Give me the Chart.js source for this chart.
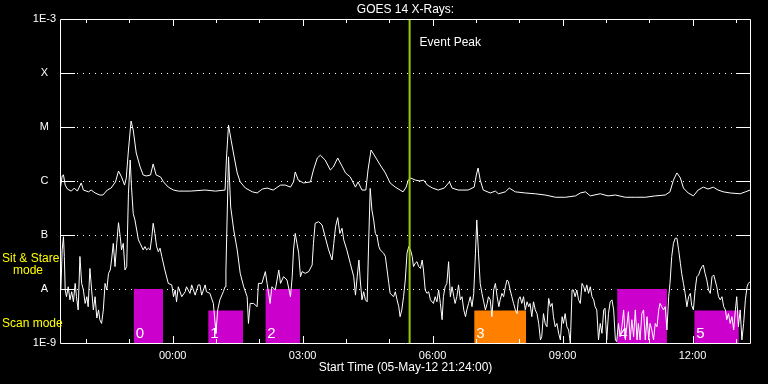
<!DOCTYPE html>
<html>
<head>
<meta charset="utf-8">
<script src="https://cdn.jsdelivr.net/npm/chart.js@4.4.1/dist/chart.umd.min.js"></script>
<style>
  html, body { margin: 0; padding: 0; background: #000; }
  #wrap { width: 768px; height: 384px; }
</style>
</head>
<body>
<div id="wrap"><canvas id="goesChart" width="768" height="384"></canvas></div>
<script>
// time axis: hours relative to 00:00 on 06-May-12 (plot starts 05-May-12 21:24)
const startHour = -2.6;
const endHour = 13.35;
const eventPeakHour = 5.47;

const levelValues = [1e-9, 1e-8, 1e-7, 1e-6, 1e-5, 1e-4, 1e-3];
const levelLabels = ["1E-9", "A", "B", "C", "M", "X", "1E-3"];

const hourTicks = [0, 3, 6, 9, 12];
const hourLabels = ["00:00", "03:00", "06:00", "09:00", "12:00"];

// observing blocks (0..5)
const blockNames = ["0", "1", "2", "3", "4", "5"];
const blockStart = [-0.9, 0.82, 2.14, 6.96, 10.26, 12.04];
const blockEnd = [-0.22, 1.63, 2.94, 8.16, 11.41, 13.07];
const blockTop = [1e-8, 4e-9, 1e-8, 4e-9, 1e-8, 4e-9];
const blockColors = ["#cc00cc", "#cc00cc", "#cc00cc", "#ff8000", "#cc00cc", "#cc00cc"];

// GOES long channel (upper curve)
const longHours = [
  -2.59, -2.55, -2.52, -2.48, -2.43, -2.34, -2.27, -2.20, -2.11, -2.06,
  -1.94, -1.88, -1.79, -1.68, -1.61, -1.51, -1.42, -1.32, -1.25, -1.18,
  -1.11, -1.07, -1.02, -0.96, -0.91, -0.84, -0.75, -0.68, -0.61, -0.51,
  -0.45, -0.38, -0.28, -0.21, -0.10, 0.02, 0.13, 0.41, 0.75, 0.99,
  1.21, 1.24, 1.29, 1.35, 1.42, 1.49, 1.56, 1.68, 1.84, 1.95,
  2.07, 2.18, 2.32, 2.49, 2.60, 2.72, 2.79, 2.83, 2.90, 3.02,
  3.18, 3.25, 3.34, 3.41, 3.52, 3.64, 3.71, 3.81, 3.92, 3.99,
  4.10, 4.22, 4.28, 4.37, 4.46, 4.51, 4.58, 4.68, 4.79, 4.91,
  5.02, 5.14, 5.25, 5.32, 5.39, 5.44, 5.49, 5.60, 5.71, 5.79,
  5.88, 6.00, 6.13, 6.27, 6.39, 6.45, 6.59, 6.82, 6.96, 7.01,
  7.05, 7.10, 7.17, 7.33, 7.45, 7.52, 7.68, 7.77, 7.91, 8.14,
  8.37, 8.60, 8.84, 9.07, 9.30, 9.41, 9.53, 9.64, 9.87, 10.05,
  10.22, 10.45, 10.68, 10.91, 11.14, 11.37, 11.48, 11.56, 11.64, 11.72,
  11.79, 11.90, 12.02, 12.13, 12.25, 12.36, 12.48, 12.59, 12.71, 12.87,
  13.10, 13.22, 13.33
];
const longFlux = [
  7.4e-7, 1.24e-6, 1.3e-6, 8.4e-7, 7.1e-7, 6.5e-7, 7.4e-7, 6.5e-7, 9.2e-7, 6.8e-7,
  6.3e-7, 6.8e-7, 6.0e-7, 5.5e-7, 5.5e-7, 6.8e-7, 7.4e-7, 9.6e-7, 1.53e-6, 1.19e-6,
  8.4e-7, 1.14e-6, 3.75e-6, 1.29e-5, 8.8e-6, 3.3e-6, 1.82e-6, 1.29e-6, 1.24e-6, 1.29e-6,
  2.07e-6, 1.29e-6, 1.19e-6, 9.6e-7, 7.7e-7, 6.8e-7, 6.5e-7, 6.5e-7, 6.8e-7, 6.5e-7,
  6.8e-7, 2.45e-6, 1.09e-5, 5.7e-6, 2.78e-6, 1.41e-6, 9.6e-7, 7.4e-7, 6.3e-7, 6.0e-7,
  7.1e-7, 7.4e-7, 6.8e-7, 8.4e-7, 8.4e-7, 7.7e-7, 9.6e-7, 1.47e-6, 1.04e-6, 9.2e-7,
  9.6e-7, 1.6e-6, 2.67e-6, 3.0e-6, 2.45e-6, 1.6e-6, 1.82e-6, 2.67e-6, 1.82e-6, 1.41e-6,
  1.19e-6, 7.7e-7, 9.6e-7, 6.8e-7, 6.8e-7, 1.6e-6, 3.75e-6, 2.78e-6, 1.98e-6, 1.41e-6,
  9.2e-7, 7.7e-7, 6.8e-7, 6.3e-7, 7.7e-7, 1.04e-6, 1.14e-6, 1.04e-6, 1.0e-6, 1.04e-6,
  8.4e-7, 7.4e-7, 6.8e-7, 7.4e-7, 9.6e-7, 7.4e-7, 6.8e-7, 6.8e-7, 7.7e-7, 1.29e-6,
  1.74e-6, 1.04e-6, 6.8e-7, 6.0e-7, 6.5e-7, 5.8e-7, 6.3e-7, 7.4e-7, 6.3e-7, 6.0e-7,
  5.8e-7, 5.5e-7, 5.0e-7, 5.0e-7, 5.3e-7, 6.0e-7, 6.3e-7, 5.3e-7, 5.8e-7, 5.3e-7,
  5.5e-7, 5.0e-7, 5.0e-7, 5.0e-7, 5.3e-7, 5.5e-7, 6.3e-7, 1.04e-6, 1.41e-6, 1.14e-6,
  7.4e-7, 6.0e-7, 5.3e-7, 6.8e-7, 7.7e-7, 7.1e-7, 7.7e-7, 6.8e-7, 6.3e-7, 6.0e-7,
  5.8e-7, 6.3e-7, 6.8e-7
];

// GOES short channel (lower curve)
const shortHours = [
  -2.58, -2.55, -2.52, -2.50, -2.48, -2.45, -2.41, -2.37, -2.33, -2.29,
  -2.25, -2.22, -2.18, -2.14, -2.10, -2.06, -2.02, -1.98, -1.95, -1.91,
  -1.87, -1.83, -1.79, -1.75, -1.71, -1.68, -1.64, -1.60, -1.56, -1.52,
  -1.48, -1.44, -1.41, -1.37, -1.33, -1.29, -1.25, -1.21, -1.18, -1.14,
  -1.10, -1.06, -1.02, -0.98, -0.95, -0.91, -0.87, -0.79, -0.75, -0.68,
  -0.64, -0.60, -0.56, -0.52, -0.48, -0.45, -0.41, -0.37, -0.33, -0.29,
  -0.25, -0.18, -0.10, -0.02, 0.02, 0.06, 0.09, 0.13, 0.21, 0.29,
  0.32, 0.40, 0.44, 0.52, 0.59, 0.63, 0.67, 0.75, 0.78, 0.86,
  0.94, 0.98, 1.00, 1.04, 1.09, 1.17, 1.21, 1.23, 1.29, 1.34,
  1.41, 1.49, 1.56, 1.64, 1.72, 1.75, 1.79, 1.87, 1.95, 1.98,
  2.06, 2.14, 2.18, 2.25, 2.29, 2.37, 2.45, 2.49, 2.56, 2.64,
  2.72, 2.76, 2.79, 2.83, 2.87, 2.91, 2.95, 2.99, 3.06, 3.14,
  3.22, 3.25, 3.29, 3.37, 3.45, 3.52, 3.60, 3.68, 3.72, 3.76,
  3.81, 3.86, 3.91, 3.95, 4.02, 4.10, 4.18, 4.22, 4.26, 4.30,
  4.33, 4.37, 4.41, 4.45, 4.49, 4.52, 4.56, 4.60, 4.64, 4.68,
  4.72, 4.76, 4.79, 4.87, 4.91, 4.95, 4.99, 5.02, 5.10, 5.14,
  5.18, 5.22, 5.25, 5.29, 5.33, 5.37, 5.41, 5.45, 5.49, 5.53,
  5.56, 5.60, 5.64, 5.68, 5.72, 5.76, 5.79, 5.83, 5.87, 5.91,
  5.95, 6.02, 6.06, 6.10, 6.14, 6.18, 6.22, 6.25, 6.29, 6.33,
  6.37, 6.41, 6.45, 6.49, 6.52, 6.56, 6.60, 6.64, 6.68, 6.72,
  6.76, 6.79, 6.83, 6.87, 6.91, 6.95, 6.99, 7.02, 7.06, 7.10,
  7.14, 7.18, 7.22, 7.26, 7.29, 7.33, 7.37, 7.41, 7.45, 7.49,
  7.53, 7.56, 7.60, 7.64, 7.68, 7.72, 7.75, 7.79, 7.83, 7.87,
  7.91, 7.95, 7.98, 8.02, 8.06, 8.10, 8.14, 8.18, 8.22, 8.25,
  8.29, 8.33, 8.37, 8.41, 8.45, 8.49, 8.52, 8.56, 8.60, 8.64,
  8.68, 8.72, 8.76, 8.79, 8.83, 8.87, 8.91, 8.95, 8.99, 9.02,
  9.06, 9.10, 9.14, 9.18, 9.22, 9.25, 9.29, 9.33, 9.37, 9.41,
  9.45, 9.49, 9.52, 9.56, 9.60, 9.64, 9.68, 9.72, 9.75, 9.79,
  9.83, 9.87, 9.91, 9.95, 9.98, 10.02, 10.06, 10.10, 10.14, 10.18,
  10.22, 10.25, 10.29, 10.33, 10.37, 10.41, 10.45, 10.49, 10.52, 10.56,
  10.60, 10.64, 10.68, 10.72, 10.75, 10.79, 10.83, 10.87, 10.91, 10.95,
  10.99, 11.02, 11.06, 11.10, 11.14, 11.18, 11.22, 11.25, 11.29, 11.33,
  11.37, 11.41, 11.45, 11.48, 11.52, 11.56, 11.60, 11.64, 11.68, 11.72,
  11.75, 11.79, 11.83, 11.87, 11.91, 11.95, 11.98, 12.02, 12.06, 12.10,
  12.14, 12.18, 12.22, 12.25, 12.29, 12.33, 12.37, 12.41, 12.45, 12.49,
  12.52, 12.56, 12.60, 12.64, 12.68, 12.72, 12.76, 12.79, 12.83, 12.87,
  12.91, 12.95, 12.99, 13.02, 13.06, 13.10, 13.14, 13.18, 13.22, 13.26,
  13.29, 13.33
];
const shortFlux = [
  9.6e-9, 5.3e-8, 9.3e-8, 4.0e-8, 9.6e-9, 7.2e-9, 1.1e-8, 6.3e-9, 8.9e-9, 5.8e-9,
  1.27e-8, 7.2e-9, 4.1e-9, 4.0e-8, 1.27e-8, 9.6e-9, 5.4e-9, 7.2e-9, 4.7e-9, 2.4e-8,
  9.6e-9, 4.1e-9, 7.2e-9, 2.9e-9, 4.1e-9, 2.7e-9, 2.3e-9, 4.1e-9, 1.27e-8, 9.6e-9,
  1.95e-8, 2.25e-8, 3.44e-8, 7.0e-8, 2.6e-8, 7.0e-8, 1.69e-7, 9.3e-8, 5.3e-8, 7.0e-8,
  2.25e-8, 2.6e-8, 5.9e-7, 2.45e-6, 7.9e-7, 2.5e-7, 1.9e-7, 8.1e-8, 7.0e-8, 5.3e-8,
  6.1e-8, 5.3e-8, 5.7e-8, 5.3e-8, 9.3e-8, 1.65e-7, 1.07e-7, 6.1e-8, 4.9e-8, 5.7e-8,
  4.0e-8, 2.25e-8, 1.27e-8, 1.19e-8, 7.2e-9, 9.6e-9, 5.8e-9, 1.1e-8, 7.2e-9, 8.9e-9,
  1.1e-8, 8.3e-9, 1.19e-8, 7.7e-9, 1.19e-8, 1.19e-8, 7.7e-9, 1.19e-8, 8.9e-9, 8.3e-9,
  5.4e-9, 2.3e-9, 1.51e-9, 4.1e-9, 6.3e-9, 8.9e-9, 1.1e-8, 2.25e-8, 2.8e-6, 3.3e-7,
  1.24e-7, 5.3e-8, 1.95e-8, 1.1e-8, 7.2e-9, 2.3e-9, 5.4e-9, 5.4e-9, 4.7e-9, 1.27e-8,
  1.27e-8, 2.1e-8, 1.27e-8, 5.4e-9, 1.1e-8, 9.6e-9, 2.25e-8, 1.27e-8, 1.69e-8, 1.47e-8,
  7.2e-9, 1.69e-8, 5.3e-8, 1.07e-7, 7.0e-8, 4.6e-8, 1.69e-8, 2.1e-8, 1.95e-8, 2.1e-8,
  2.78e-8, 7.0e-8, 1.65e-7, 1.76e-7, 1.53e-7, 9.3e-8, 5.3e-8, 3.44e-8, 7.0e-8, 1.42e-7,
  2.1e-7, 1.07e-7, 1.33e-7, 8.1e-8, 5.3e-8, 3.0e-8, 1.69e-8, 7.7e-9, 1.69e-8, 3.44e-8,
  1.47e-8, 6.3e-9, 8.9e-9, 6.3e-9, 5.8e-9, 5.3e-8, 7.3e-7, 2.9e-7, 1.9e-7, 1.07e-7,
  9.3e-8, 6.1e-8, 5.3e-8, 4.6e-8, 4.0e-8, 2.25e-8, 1.27e-8, 8.3e-9, 7.2e-9, 8.9e-9,
  6.3e-9, 4.7e-9, 3.07e-9, 4.1e-9, 7.2e-9, 1.47e-8, 4.6e-8, 6.1e-8, 5.3e-8, 4.0e-8,
  2.6e-8, 3.0e-8, 3.2e-8, 2.6e-8, 2.4e-8, 3.44e-8, 2.25e-8, 9.6e-9, 8.3e-9, 8.9e-9,
  6.3e-9, 5.4e-9, 7.2e-9, 5.8e-9, 9.6e-9, 5.4e-9, 2.7e-9, 7.2e-9, 1.1e-8, 1.27e-8,
  3.2e-8, 7.2e-9, 1.1e-8, 7.2e-9, 5.4e-9, 7.2e-9, 1.19e-8, 6.3e-9, 7.2e-9, 4.1e-9,
  3.07e-9, 4.1e-9, 5.4e-9, 7.2e-9, 4.7e-9, 8.3e-9, 4.6e-8, 1.9e-7, 4.6e-8, 1.27e-8,
  8.3e-9, 5.8e-9, 4.1e-9, 5.4e-9, 7.2e-9, 6.3e-9, 3.07e-9, 9.6e-9, 1.27e-8, 7.2e-9,
  4.7e-9, 6.3e-9, 8.3e-9, 7.2e-9, 1.1e-8, 1.47e-8, 1.37e-8, 9.6e-9, 7.2e-9, 5.4e-9,
  4.1e-9, 3.5e-9, 6.3e-9, 7.2e-9, 5.4e-9, 7.2e-9, 4.1e-9, 5.8e-9, 4.7e-9, 5.4e-9,
  3.07e-9, 5.8e-9, 4.1e-9, 3.5e-9, 2.3e-9, 1.14e-9, 1.31e-9, 3.5e-9, 2.3e-9, 2.0e-9,
  6.7e-9, 4.7e-9, 5.4e-9, 3.07e-9, 2.0e-9, 2.3e-9, 1.51e-9, 1.14e-9, 3.07e-9, 2.3e-9,
  3.5e-9, 2.0e-9, 1.74e-9, 1.0e-9, 9.6e-9, 9.6e-9, 7.2e-9, 9.6e-9, 6.3e-9, 5.4e-9,
  1.27e-8, 1.1e-8, 8.9e-9, 1.19e-8, 8.3e-9, 1.1e-8, 7.2e-9, 6.3e-9, 4.7e-9, 4.1e-9,
  1.14e-9, 2.3e-9, 1.51e-9, 4.1e-9, 4.4e-9, 1.14e-9, 3.5e-9, 5.8e-9, 6.3e-9, 4.1e-9,
  1.14e-9, 1.06e-9, 2.3e-9, 1.31e-9, 2.0e-9, 4.1e-9, 1.14e-9, 2.3e-9, 3.8e-9, 1.14e-9,
  2.7e-9, 1.31e-9, 4.1e-9, 1.14e-9, 2.3e-9, 1.14e-9, 3.5e-9, 4.1e-9, 1.14e-9, 3.07e-9,
  1.14e-9, 2.3e-9, 1.74e-9, 1.14e-9, 2.3e-9, 2.0e-9, 4.1e-9, 5.4e-9, 4.7e-9, 4.1e-9,
  4.7e-9, 1.74e-9, 7.2e-9, 1.27e-8, 4.0e-8, 7.0e-8, 8.7e-8, 8.7e-8, 5.3e-8, 3.0e-8,
  1.95e-8, 1.27e-8, 8.3e-9, 4.7e-9, 7.2e-9, 8.3e-9, 5.0e-9, 4.1e-9, 9.6e-9, 1.69e-8,
  1.82e-8, 2.25e-8, 2.6e-8, 2.78e-8, 1.95e-8, 1.47e-8, 9.6e-9, 8.3e-9, 1.69e-8, 1.82e-8,
  1.47e-8, 1.1e-8, 7.2e-9, 6.3e-9, 7.2e-9, 4.7e-9, 4.1e-9, 2.7e-9, 3.5e-9, 2.3e-9,
  3.07e-9, 1.74e-9, 4.1e-9, 7.2e-9, 2.0e-9, 4.1e-9, 1.14e-9, 2.3e-9, 6.3e-9, 1.1e-8,
  1.27e-8, 1.37e-8
];

const FONT = "'Liberation Sans', Arial, sans-serif";
Chart.defaults.font.family = FONT;

const toPoints = (hours, flux) => hours.map((h, i) => ({ x: h, y: flux[i] }));

const datasets = [
  {
    label: "Event Peak",
    data: [{ x: eventPeakHour, y: 1e-9 }, { x: eventPeakHour, y: 1e-3 }],
    borderColor: "#99cc00",
    borderWidth: 2,
    pointRadius: 0,
    order: 0
  },
  {
    label: "GOES long",
    data: toPoints(longHours, longFlux),
    borderColor: "#ffffff",
    borderWidth: 1,
    pointRadius: 0,
    order: 1
  },
  {
    label: "GOES short",
    data: toPoints(shortHours, shortFlux),
    borderColor: "#ffffff",
    borderWidth: 1,
    pointRadius: 0,
    order: 1
  }
];

blockNames.forEach((name, i) => {
  datasets.push({
    label: "Block " + name,
    data: [{ x: blockStart[i], y: blockTop[i] }, { x: blockEnd[i], y: blockTop[i] }],
    borderWidth: 0,
    borderColor: "rgba(0,0,0,0)",
    backgroundColor: blockColors[i],
    fill: "start",
    pointRadius: 0,
    order: 2
  });
});

// dotted level lines, inward ticks, frame and annotations
const framePlugin = {
  id: "frame",
  beforeDatasetsDraw(chart) {
    const { ctx, chartArea: a, scales: { y } } = chart;
    ctx.save();
    ctx.strokeStyle = "#ffffff";
    ctx.lineWidth = 1;
    ctx.setLineDash([1, 5]);
    levelValues.slice(1, -1).forEach(v => {
      const py = Math.round(y.getPixelForValue(v)) + 0.5;
      ctx.beginPath();
      ctx.moveTo(a.left + 17, py);
      ctx.lineTo(a.right - 15, py);
      ctx.stroke();
    });
    ctx.restore();
  },
  afterDatasetsDraw(chart) {
    const { ctx, chartArea: a, scales: { x, y } } = chart;
    ctx.save();
    ctx.strokeStyle = "#ffffff";
    ctx.lineWidth = 1;
    ctx.setLineDash([]);

    // frame
    ctx.beginPath();
    ctx.rect(a.left + 0.5, a.top + 0.5, a.right - a.left - 1, a.bottom - a.top);
    ctx.stroke();

    // level ticks on both sides
    levelValues.slice(1, -1).forEach(v => {
      const py = Math.round(y.getPixelForValue(v)) + 0.5;
      ctx.beginPath();
      ctx.moveTo(a.left, py); ctx.lineTo(a.left + 15, py);
      ctx.moveTo(a.right - 15, py); ctx.lineTo(a.right, py);
      ctx.stroke();
    });

    // hour ticks, top and bottom
    for (let h = Math.ceil(startHour); h <= Math.floor(endHour); h++) {
      const px = Math.round(x.getPixelForValue(h)) + 0.5;
      const len = h % 3 === 0 ? 7 : 4;
      ctx.beginPath();
      ctx.moveTo(px, a.top); ctx.lineTo(px, a.top + len);
      ctx.moveTo(px, a.bottom); ctx.lineTo(px, a.bottom - len);
      ctx.stroke();
    }

    // block numbers
    ctx.fillStyle = "#ffffff";
    ctx.font = "15px " + FONT;
    ctx.textAlign = "left";
    ctx.textBaseline = "alphabetic";
    blockNames.forEach((name, i) => {
      ctx.fillText(name, x.getPixelForValue(blockStart[i]) + 2, a.bottom - 5);
    });

    // event peak label
    const ex = x.getPixelForValue(eventPeakHour);
    ctx.font = "12px " + FONT;
    ctx.textBaseline = "middle";
    ctx.fillText("Event Peak", ex + 10, a.top + 24);

    // mode labels
    ctx.fillStyle = "#ffff00";
    ctx.fillText("Sit & Stare", 2, 259);
    ctx.fillText("mode", 13, 271);
    ctx.fillText("Scan mode", 2, 324);
    ctx.restore();
  }
};

new Chart(document.getElementById("goesChart").getContext("2d"), {
  type: "line",
  data: { datasets: datasets },
  options: {
    responsive: false,
    animation: false,
    devicePixelRatio: 1,
    layout: { padding: { left: 0, right: 17, top: 0, bottom: 0 } },
    elements: { line: { tension: 0 } },
    plugins: {
      legend: { display: false },
      tooltip: { enabled: false },
      title: {
        display: true,
        text: "GOES 14 X-Rays:",
        color: "#ffffff",
        fullSize: false,
        font: { size: 12, weight: "normal" },
        padding: { top: 2, bottom: 2.6 }
      }
    },
    scales: {
      x: {
        type: "linear",
        min: startHour,
        max: endHour,
        afterBuildTicks: s => { s.ticks = hourTicks.map(v => ({ value: v })); },
        afterFit: s => { s.height = 41; },
        grid: { display: false, drawTicks: false },
        border: { display: false },
        ticks: {
          color: "#ffffff",
          font: { size: 11 },
          padding: 6,
          maxRotation: 0,
          autoSkip: false,
          callback: (v, i) => hourLabels[i]
        },
        title: {
          display: true,
          text: "Start Time (05-May-12 21:24:00)",
          color: "#ffffff",
          font: { size: 12 },
          padding: { top: 0, bottom: 9 }
        }
      },
      y: {
        type: "logarithmic",
        min: 1e-9,
        max: 1e-3,
        afterBuildTicks: s => { s.ticks = levelValues.map(v => ({ value: v })); },
        afterFit: s => { s.width = 60; },
        grid: { display: false, drawTicks: false },
        border: { display: false },
        ticks: {
          color: "#ffffff",
          font: { size: 11 },
          padding: 4,
          crossAlign: "center",
          autoSkip: false,
          callback: (v, i) => levelLabels[i]
        }
      }
    }
  },
  plugins: [framePlugin]
});
</script>
</body>
</html>
